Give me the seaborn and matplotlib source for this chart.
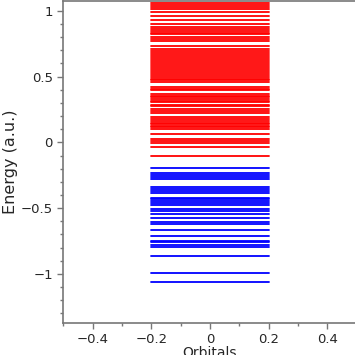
import numpy as np
import pandas as pd
import matplotlib
matplotlib.use('Agg')
import matplotlib.pyplot as plt
import seaborn as sns
from matplotlib.ticker import MultipleLocator

# orbital energies (a.u.)
virtual=[1.061,1.046,1.030,1.015,0.990,0.957,0.929,0.898,0.880,0.865,0.850,0.835,0.823,
         0.798,0.783,0.767,0.732,0.711,0.696,0.680,0.665,0.650,0.635,0.620,0.600,0.585,
         0.570,0.555,0.540,0.525,0.510,0.500,0.483,0.471,0.458,0.418,0.405,0.395,0.367,
         0.355,0.342,0.327,0.315,0.305,0.286,0.274,0.255,0.236,0.220,0.190,0.178,0.165,
         0.149,0.137,0.125,0.114,0.099,0.063,0.027,0.010,-0.008,-0.038,-0.104]
occupied=[-0.193,-0.231,-0.251,-0.266,-0.277,-0.342,-0.355,-0.368,-0.383,-0.420,-0.432,
          -0.445,-0.460,-0.475,-0.509,-0.524,-0.547,-0.578,-0.603,-0.621,-0.666,-0.709,
          -0.747,-0.760,-0.783,-0.798,-0.866,-0.995,-1.062]
half_width=0.2

rows=[]
for kind,levels in [('virtual',virtual),('occupied',occupied)]:
    for i,e in enumerate(levels):
        for x in (-half_width,half_width):
            rows.append({'x':x,'energy':e,'kind':kind,'orb':kind+str(i)})
df=pd.DataFrame(rows)

sns.set_style('ticks')
plt.rcParams['font.family']=['DejaVu Sans']

fig=plt.figure(figsize=(3.55,3.55),dpi=100)
ax=fig.add_axes([0.178,0.09,0.827,0.907])

sns.lineplot(data=df,x='x',y='energy',hue='kind',units='orb',estimator=None,
             palette={'virtual':'#ff0000','occupied':'#0000ff'},lw=1.3,
             legend=False,ax=ax,sort=False)

fmt=plt.FuncFormatter(lambda v,p: '0' if abs(v)<1e-9 else ('%g'%v).replace('-','\u2212'))
ax.set_xlim(-0.5,0.5)
ax.set_ylim(-1.373,1.074)
ax.xaxis.set_major_locator(MultipleLocator(0.2))
ax.xaxis.set_minor_locator(MultipleLocator(0.1))
ax.yaxis.set_major_locator(MultipleLocator(0.5))
ax.yaxis.set_minor_locator(MultipleLocator(0.1))
ax.xaxis.set_major_formatter(fmt)
ax.yaxis.set_major_formatter(fmt)
ax.tick_params(which='major',direction='out',length=4,width=1,color='#777777',labelsize=9.5)
ax.tick_params(which='minor',direction='out',length=2,width=1,color='#777777')
for s in ax.spines.values():
    s.set_color('#777777')
    s.set_linewidth(1.2)

ax.set_xlabel('Orbitals',fontsize=10,labelpad=0)
ax.set_ylabel('Energy (a.u.)',fontsize=11.5,labelpad=2)

fig.savefig('out.png',dpi=100)
